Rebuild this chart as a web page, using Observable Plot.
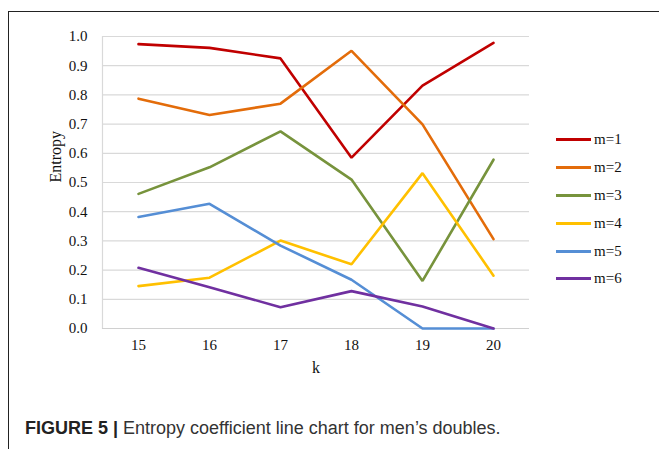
<!DOCTYPE html>
<html>
<head>
<meta charset="utf-8">
<script src="https://cdn.jsdelivr.net/npm/d3@7"></script>
<script src="https://cdn.jsdelivr.net/npm/@observablehq/plot@0.6"></script>
<style>
  html, body { margin: 0; padding: 0; background: #fff; }
  #wrap { position: relative; width: 659px; height: 449px; overflow: hidden; }
  #frame { position: absolute; left: 8px; top: 11px; width: 700px; height: 500px;
           border-left: 1.3px solid #222; border-top: 1.3px solid #222; }
  #chart { position: absolute; left: 0; top: 0; }
  #chart svg text { font-family: "Liberation Serif", "Times New Roman", serif; }
  #legend { position: absolute; left: 556px; top: 126px; font-family: "Liberation Serif", serif; font-size: 15px; color: #111; }
  .li { display: flex; align-items: center; height: 27.8px; }
  .sw { width: 35px; height: 3px; margin-right: 3px; }
  #caption { position: absolute; left: 25px; top: 418px; font-family: "Liberation Sans", Arial, sans-serif;
             font-size: 18px; color: #333; white-space: nowrap; }
  #caption b { color: #222; }
</style>
</head>
<body>
<div id="wrap">
  <div id="frame"></div>
  <div id="chart"></div>
  <div id="legend"></div>
  <div id="caption"><b>FIGURE 5 |</b> Entropy coefficient line chart for men’s doubles.</div>
</div>
<script>
const ks = [15, 16, 17, 18, 19, 20];
const seriesNames = ["m=1", "m=2", "m=3", "m=4", "m=5", "m=6"];
const colors = ["#C00000", "#E36C0A", "#77933C", "#FFC000", "#558ED5", "#7030A0"];
const m1 = [0.974, 0.961, 0.925, 0.585, 0.832, 0.978];
const m2 = [0.787, 0.731, 0.770, 0.951, 0.699, 0.306];
const m3 = [0.461, 0.552, 0.675, 0.510, 0.163, 0.578];
const m4 = [0.145, 0.174, 0.301, 0.220, 0.532, 0.181];
const m5 = [0.382, 0.427, 0.284, 0.167, 0.000, 0.000];
const m6 = [0.208, 0.141, 0.073, 0.128, 0.075, 0.000];
const yTicks = [0, 0.1, 0.2, 0.3, 0.4, 0.5, 0.6, 0.7, 0.8, 0.9, 1.0];

const allSeries = [m1, m2, m3, m4, m5, m6];
const data = [];
allSeries.forEach((vals, i) => vals.forEach((v, j) => data.push({k: ks[j], v, m: seriesNames[i]})));

const serif = "Liberation Serif, Times New Roman, serif";
const chart = Plot.plot({
  width: 659,
  height: 400,
  marginLeft: 102,
  marginRight: 130,
  marginTop: 36,
  marginBottom: 72,
  style: { fontFamily: serif, fontSize: "15px", color: "#111", background: "transparent" },
  x: { type: "point", domain: ks, padding: 0.5 },
  y: { domain: [0, 1], ticks: yTicks },
  color: { domain: seriesNames, range: colors },
  marks: [
    Plot.gridY(yTicks, { stroke: "#d9d9d9", strokeOpacity: 1, strokeWidth: 1.2 }),
    Plot.frame({ anchor: "left", stroke: "#d9d9d9", strokeWidth: 1.2 }),
    Plot.axisY(yTicks, { tickSize: 0, tickPadding: 15, tickFormat: d3.format(".1f"), label: null, fontSize: 15, fontFamily: serif }),
    Plot.axisX(ks, { tickSize: 0, tickPadding: 11, label: null, fontSize: 15, fontFamily: serif }),
    Plot.text(["Entropy"], { frameAnchor: "left", dx: -47, rotate: -90, fontSize: 16, fill: "#111", fontFamily: serif }),
    Plot.text(["k"], { frameAnchor: "bottom", dy: 44, fontSize: 16, fill: "#111", fontFamily: serif }),
    Plot.ruleY([0], { stroke: "#d0d0d0", strokeWidth: 1.2 }),
    Plot.line(data, { x: "k", y: "v", z: "m", stroke: "m", strokeWidth: 2.6, strokeLinejoin: "miter" })
  ]
});
document.getElementById("chart").appendChild(chart);

const leg = document.getElementById("legend");
seriesNames.forEach((n, i) => {
  const d = document.createElement("div");
  d.className = "li";
  d.innerHTML = `<span class="sw" style="background:${colors[i]}"></span><span>${n}</span>`;
  leg.appendChild(d);
});
</script>
</body>
</html>
